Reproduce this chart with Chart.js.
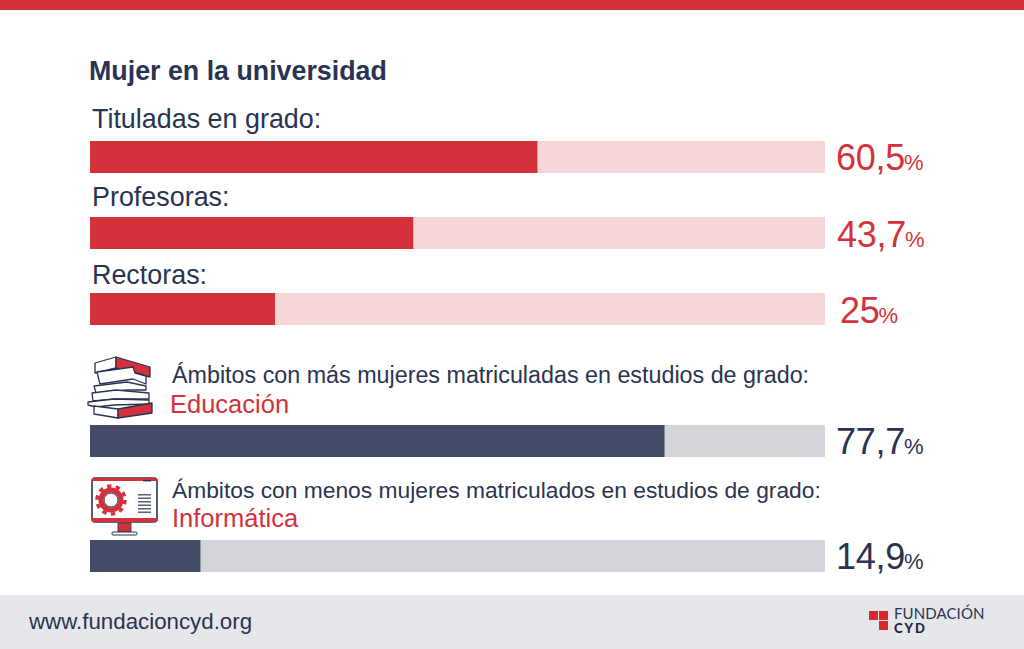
<!DOCTYPE html>
<html lang="es">
<head>
<meta charset="utf-8">
<title>Mujer en la universidad</title>
<script src="https://cdn.jsdelivr.net/npm/chart.js@4/dist/chart.umd.min.js"></script>
<style>
html,body{margin:0;padding:0;background:#fff}
#page{position:relative;width:1024px;height:649px;overflow:hidden;background:#fff;font-family:"Liberation Sans",Arial,sans-serif;color:#2a3452}
#top{position:absolute;left:0;top:0;width:1024px;height:10px;background:#d3323a}
#foot{position:absolute;left:0;top:595px;width:1024px;height:54px;background:#e6e7eb}
.t{position:absolute;white-space:nowrap;line-height:1}
.barbox{position:absolute;left:90px;width:735px;height:32px}
.val{position:absolute;white-space:nowrap;line-height:1;font-size:36px;letter-spacing:-.3px}
.val small{font-size:22px;margin-left:-1px;letter-spacing:0}
svg{position:absolute;overflow:visible}
#logoText{left:894px;top:606px;font-family:Lato,sans-serif;font-size:15px;letter-spacing:.1px;line-height:14px;color:#2a3452}
#logoText b{font-size:13px;font-weight:900;letter-spacing:2px;color:#1e2844}
</style>
</head>
<body>
<div id="page">
  <div id="top"></div>
  <div id="foot"></div>
  <div class="t" style="left:89px;top:58px;font-size:26.8px;font-weight:700;letter-spacing:0">Mujer en la universidad</div>
  <div id="labels"></div>
  <div id="bars"></div>

  <!-- books icon -->
  <svg style="left:86px;top:355px" width="68" height="64" viewBox="0 0 68 64" fill="#fff" stroke="#2a3452" stroke-width="1.3" stroke-linejoin="round">
    <path d="M9 8 L30 2 L30 13 L9 18 Z"/>
    <path d="M30 2 L64 12 L64 22 L30 13 Z" fill="#d3323a"/>
    <path d="M11 17 L47 12 L49 18 L60 21 L60 29 L47 24 L14 29 Z"/>
    <path d="M8 31 L41 27 L60 31 L60 35 L41 35 L10 38 Z"/>
    <path d="M6 38 L30 35 L63 38 L63 44 L30 44 L7 46 Z"/>
    <path d="M2 47 L28 44 L63 45 L63 49 L28 50 L10 52 L2 50 Z"/>
    <path d="M8 51 L32 54 L32 63 L8 59 Z"/>
    <path d="M32 54 L66 48 L66 58 L32 63 Z" fill="#d3323a"/>
  </svg>

  <!-- monitor icon -->
  <svg style="left:91px;top:477px" width="68" height="60" viewBox="0 0 68 60">
    <rect x="1" y="1" width="65" height="44" rx="3" fill="#fff" stroke="#2a3452" stroke-width="1.6"/>
    <rect x="1" y="1" width="65" height="3" fill="#d3323a"/>
    <rect x="1" y="41" width="65" height="4" fill="#d3323a"/>
    <rect x="52" y="3" width="8" height="1.4" fill="#2a3452"/>
    <rect x="27" y="46" width="13" height="9" fill="#d3323a" stroke="#2a3452" stroke-width=".8"/>
    <rect x="21" y="55" width="25" height="3" rx="1" fill="#fff" stroke="#2a3452" stroke-width="1"/>
    <circle cx="20" cy="23" r="10" fill="none" stroke="#d3323a" stroke-width="5"/>
    <circle cx="20" cy="23" r="14" fill="none" stroke="#d3323a" stroke-width="3.5" stroke-dasharray="4.4 4.4"/>
    <circle cx="20" cy="23" r="7" fill="none" stroke="#2a3452" stroke-width="1"/>
    <g fill="#5a6178"><rect x="47" y="17" width="13" height="1.5"/><rect x="47" y="20.5" width="13" height="1.5"/><rect x="47" y="24" width="13" height="1.5"/><rect x="47" y="27.5" width="13" height="1.5"/><rect x="47" y="31" width="13" height="1.5"/><rect x="47" y="34.5" width="13" height="1.5"/></g>
  </svg>

  <div class="t" style="left:29px;top:611px;font-size:22.3px;color:#2a3452">www.fundacioncyd.org</div>

  <!-- logo -->
  <svg style="left:868px;top:610px" width="22" height="22" viewBox="0 0 22 22" fill="#d8282f">
    <rect x="1" y="1" width="9" height="9"/><rect x="11" y="1" width="9" height="9"/><rect x="11" y="11" width="9" height="9"/>
  </svg>
  <div class="t" id="logoText">FUNDACIÓN<br><b>CYD</b></div>
</div>

<script>
// ---- data ----
const categories = ["Tituladas en grado:", "Profesoras:", "Rectoras:", "Educación", "Informática"];
const percentages = [60.5, 43.7, 25, 77.7, 14.9];
const valueLabels = ["60,5", "43,7", "25", "77,7", "14,9"];
const seriesColours = ["#d3323a", "#d3323a", "#d3323a", "#434b66", "#434b66"];
const trackColours = ["#f6d6d7", "#f6d6d7", "#f6d6d7", "#d3d5da", "#d3d5da"];
const headings = ["Ámbitos con más mujeres matriculadas en estudios de grado:", "Ámbitos con menos mujeres matriculados en estudios de grado:"];

// ---- layout (pixels on the page) ----
const barTops = [141, 217, 293, 425, 540];
const labelSpots = [[92,106,26.9,"#2a3452"],[92,184,26.9,"#2a3452"],[92,262,26.9,"#2a3452"],[170,392,25.5,"#d3323a"],[172,506,25.5,"#d3323a"]];
const headingSpots = [[172,364,23.3],[172,479,22.8]];
const valueSpots = [[836,140],[837,217],[840,293],[836,424],[836,539]];
const axisMax = 99.46;

const labelsEl = document.getElementById("labels");
function addText(txt, x, y, size, colour){
  const d = document.createElement("div");
  d.className = "t";
  d.textContent = txt;
  d.style.cssText = `left:${x}px;top:${y}px;font-size:${size}px;color:${colour}`;
  labelsEl.appendChild(d);
}
categories.forEach((c,i)=>{ const s = labelSpots[i]; addText(c, s[0], s[1], s[2], s[3]); });
headings.forEach((h,i)=>{ const s = headingSpots[i]; addText(h, s[0], s[1], s[2], "#2a3452"); });

const barsEl = document.getElementById("bars");
Chart.defaults.animation = false;
categories.forEach((c,i)=>{
  const box = document.createElement("div");
  box.className = "barbox";
  box.style.top = barTops[i] + "px";
  const cv = document.createElement("canvas");
  box.appendChild(cv);
  barsEl.appendChild(box);

  new Chart(cv, {
    type: "bar",
    data: {
      labels: [c],
      datasets: [
        {label:"Mujeres", data:[percentages[i]], backgroundColor:seriesColours[i], borderWidth:0, stack:"a"},
        {label:"Resto", data:[100 - percentages[i]], backgroundColor:trackColours[i], borderWidth:0, stack:"a"}
      ]
    },
    options: {
      indexAxis: "y",
      responsive: true,
      maintainAspectRatio: false,
      layout: {padding:0},
      plugins: {legend:{display:false}, tooltip:{enabled:false}, title:{display:false}},
      scales: {
        x: {display:false, stacked:true, min:0, max:axisMax, grid:{display:false}},
        y: {display:false, stacked:true, grid:{display:false}}
      },
      datasets: {bar:{categoryPercentage:1, barPercentage:1}}
    }
  });

  const v = document.createElement("div");
  v.className = "val";
  v.style.left = valueSpots[i][0] + "px";
  v.style.top = valueSpots[i][1] + "px";
  v.style.color = i < 3 ? "#d3323a" : "#2a3452";
  v.textContent = valueLabels[i];
  const sm = document.createElement("small");
  sm.textContent = "%";
  v.appendChild(sm);
  barsEl.appendChild(v);
});
</script>
</body>
</html>
